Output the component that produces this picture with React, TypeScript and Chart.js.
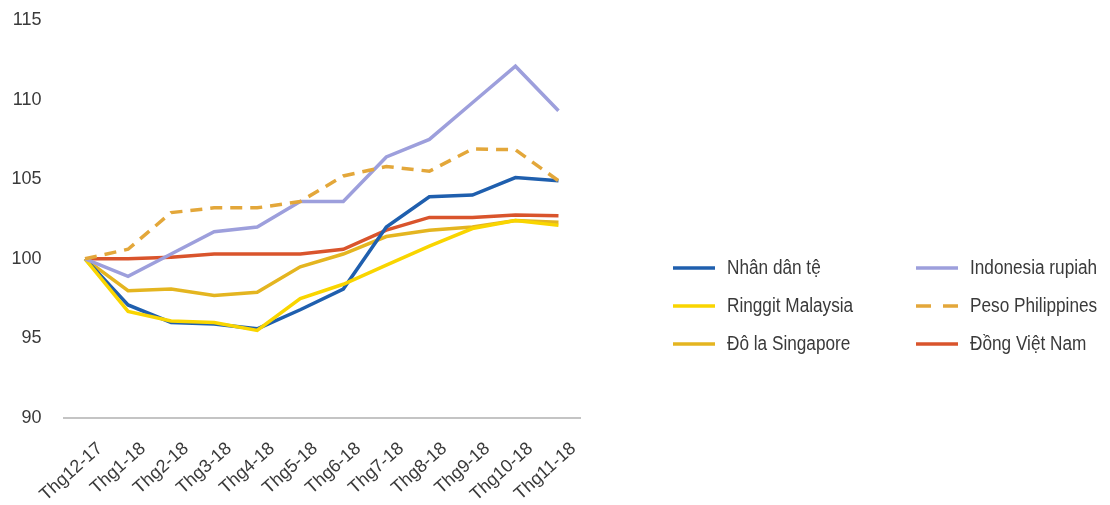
import React, { useEffect, useRef } from "react";
import { Chart, registerables } from "chart.js";

Chart.register(...registerables);

const categories = ["Thg12-17", "Thg1-18", "Thg2-18", "Thg3-18", "Thg4-18", "Thg5-18", "Thg6-18", "Thg7-18", "Thg8-18", "Thg9-18", "Thg10-18", "Thg11-18"];
const nhanDanTe = [100, 97.1, 96.0, 95.9, 95.6, 96.8, 98.1, 102.0, 103.9, 104.0, 105.1, 104.9];
const indonesiaRupiah = [100, 98.9, 100.3, 101.7, 102.0, 103.6, 103.6, 106.4, 107.5, 109.8, 112.1, 109.3];
const ringgitMalaysia = [100, 96.7, 96.1, 96.0, 95.5, 97.5, 98.4, 99.6, 100.8, 101.9, 102.4, 102.1];
const pesoPhilippines = [100, 100.6, 102.9, 103.2, 103.2, 103.6, 105.2, 105.8, 105.5, 106.9, 106.85, 104.9];
const doLaSingapore = [100, 98.0, 98.1, 97.7, 97.9, 99.5, 100.3, 101.4, 101.8, 102.0, 102.4, 102.3];
const dongVietNam = [100, 100.0, 100.1, 100.3, 100.3, 100.3, 100.6, 101.8, 102.6, 102.6, 102.75, 102.7];
const yTicks = [90, 95, 100, 105, 110, 115];

const FONT = "'Liberation Sans', Arial, sans-serif";
const TEXT = "#3a3a3a";

const legendPlugin = {
  id: "gridLegend",
  afterDraw(chart: any) {
    const ctx = chart.ctx;
    const ds = chart.data.datasets;
    const colX = [673, 916];
    const rowY = [268, 306, 344];
    ctx.save();
    ctx.font = `20px ${FONT}`;
    ctx.textBaseline = "middle";
    ctx.fillStyle = TEXT;
    ds.forEach((d: any, i: number) => {
      const x = colX[i % 2];
      const y = rowY[Math.floor(i / 2)];
      ctx.beginPath();
      ctx.strokeStyle = d.borderColor;
      ctx.lineWidth = 3.5;
      ctx.setLineDash(d.borderDash && d.borderDash.length ? [15, 12] : []);
      ctx.moveTo(x, y);
      ctx.lineTo(x + 42, y);
      ctx.stroke();
      ctx.setLineDash([]);
      ctx.save();
      ctx.translate(x + 54, y);
      ctx.scale(0.86, 1);
      ctx.fillText(d.label, 0, 0);
      ctx.restore();
    });
    ctx.restore();
  },
};

export default function App() {
  const ref = useRef<HTMLCanvasElement | null>(null);
  useEffect(() => {
    if (!ref.current) return;
    const mk = (label: string, data: number[], color: string, dash: number[] = [], order = 0) => ({
      label,
      data,
      borderColor: color,
      backgroundColor: color,
      borderWidth: 3.5,
      borderDash: dash,
      pointRadius: 0,
      tension: 0,
      fill: false,
      order,
    });
    const chart = new Chart(ref.current, {
      type: "line",
      data: {
        labels: categories,
        datasets: [
          mk("Nhân dân tệ", nhanDanTe, "#1f5fae", [], 3),
          mk("Indonesia rupiah", indonesiaRupiah, "#9d9fdc", [], 1),
          mk("Ringgit Malaysia", ringgitMalaysia, "#f9d500", [], 2),
          mk("Peso Philippines", pesoPhilippines, "#e3a73a", [12, 8], 0),
          mk("Đô la Singapore", doLaSingapore, "#e4b520", [], 4),
          mk("Đồng Việt Nam", dongVietNam, "#d9542c", [], 5),
        ],
      },
      options: {
        animation: false,
        responsive: false,
        maintainAspectRatio: false,
        layout: { padding: { top: 20, right: 530, left: 0, bottom: 0 } },
        plugins: { legend: { display: false }, tooltip: { enabled: false } },
        scales: {
          x: {
            type: "category",
            offset: true,
            grid: { display: false, drawTicks: false },
            border: { display: true, color: "#c4c4c4", width: 2 },
            ticks: {
              autoSkip: false,
              minRotation: 42,
              maxRotation: 42,
              padding: 20,
              labelOffset: 15,
              color: TEXT,
              font: { family: FONT, size: 18 },
            },
            afterFit: (s: any) => {
              s.height = 87;
            },
          },
          y: {
            min: 90,
            max: 115,
            afterBuildTicks: (s: any) => {
              s.ticks = yTicks.map((v) => ({ value: v }));
            },
            grid: { display: false, drawTicks: true, tickLength: 22 },
            border: { display: false },
            ticks: {
              padding: 0,
              color: TEXT,
              font: { family: FONT, size: 18 },
            },
            afterFit: (s: any) => {
              s.width = 63.5;
            },
          },
        },
      },
      plugins: [legendPlugin],
    });
    return () => chart.destroy();
  }, []);
  return (
    <div style={{ position: "fixed", left: 0, top: 0, width: 1110, height: 505, background: "#fff" }}>
      <canvas ref={ref} width={1110} height={505} style={{ width: 1110, height: 505 }} />
    </div>
  );
}
